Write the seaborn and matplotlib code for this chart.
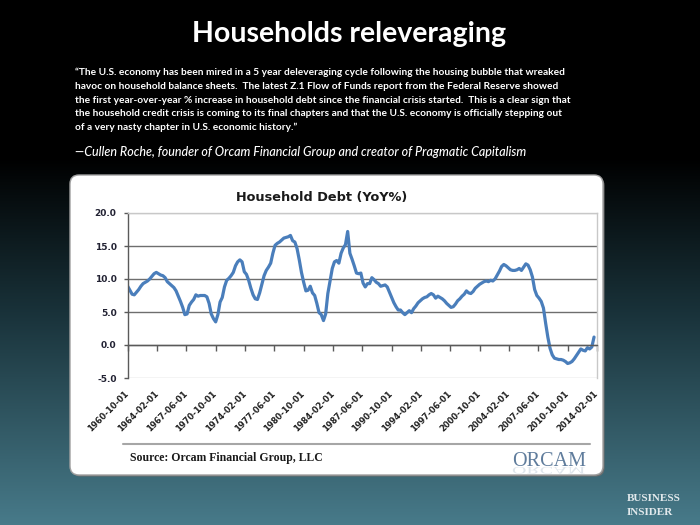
import numpy as np
import pandas as pd
import seaborn as sns
import matplotlib.pyplot as plt
import matplotlib.dates as mdates
import matplotlib.transforms as mtransforms
from matplotlib.patches import FancyBboxPatch, PathPatch
from matplotlib.textpath import TextPath
from matplotlib.font_manager import FontProperties

# Household debt, year-over-year % change, quarterly from 1960-10-01
debt_yoy = [
    8.9, 8.3, 7.7, 7.6, 8.0, 8.4, 8.9, 9.3,
    9.5, 9.7, 10.0, 10.4, 10.8, 11.0, 10.8, 10.6,
    10.5, 10.2, 9.6, 9.3, 9.0, 8.7, 8.2, 7.4,
    6.6, 5.7, 4.6, 4.7, 6.0, 6.5, 6.9, 7.6,
    7.4, 7.5, 7.5, 7.5, 7.3, 6.3, 4.7, 4.0,
    3.5, 4.6, 6.5, 7.2, 8.8, 9.8, 10.1, 10.5,
    11.0, 12.0, 12.6, 12.9, 12.6, 11.1, 10.7, 9.8,
    8.6, 7.6, 7.0, 6.9, 7.9, 9.2, 10.5, 11.3,
    11.8, 12.4, 13.9, 15.1, 15.4, 15.6, 15.9, 16.2,
    16.3, 16.4, 16.6, 15.8, 15.6, 14.6, 12.9, 11.0,
    9.5, 8.2, 8.3, 8.9, 7.9, 7.5, 6.3, 4.9,
    4.6, 3.7, 4.7, 7.8, 9.7, 11.6, 12.6, 12.8,
    12.4, 13.9, 14.7, 15.2, 17.2, 13.9, 13.0, 12.0,
    10.9, 10.8, 10.9, 9.4, 8.8, 9.3, 9.3, 10.2,
    9.9, 9.5, 9.3, 8.9, 9.0, 9.1, 8.8, 8.0,
    7.2, 6.4, 5.8, 5.3, 5.3, 4.9, 4.6, 4.9,
    5.2, 4.9, 5.5, 5.9, 6.4, 6.7, 7.0, 7.2,
    7.3, 7.6, 7.8, 7.6, 7.1, 7.4, 7.2, 7.0,
    6.7, 6.3, 6.0, 5.7, 5.8, 6.2, 6.7, 7.0,
    7.4, 7.7, 8.2, 7.9, 7.8, 8.1, 8.6, 8.9,
    9.2, 9.4, 9.6, 9.7, 9.6, 9.8, 9.7, 10.0,
    10.6, 11.2, 11.9, 12.2, 12.0, 11.7, 11.4, 11.3,
    11.3, 11.4, 11.6, 11.3, 11.8, 12.3, 12.1, 11.4,
    10.3, 8.4, 7.5, 7.1, 6.6, 5.6, 3.3, 1.2,
    -0.5, -1.5, -2.0, -2.1, -2.2, -2.2, -2.3, -2.5,
    -2.8, -2.7, -2.5, -2.1, -1.6, -1.1, -0.6, -0.8,
    -0.9, -0.4, -0.6, -0.3, 1.2,
]
first_quarter = '1960-10-01'

x_tick_labels = ['1960-10-01', '1964-02-01', '1967-06-01', '1970-10-01', '1974-02-01',
                 '1977-06-01', '1980-10-01', '1984-02-01', '1987-06-01', '1990-10-01',
                 '1994-02-01', '1997-06-01', '2000-10-01', '2004-02-01', '2007-06-01',
                 '2010-10-01', '2014-02-01']
y_ticks = [-5, 0, 5, 10, 15, 20]

page_title = 'Households releveraging'
quote_lines = [
    '\u201cThe U.S. economy has been mired in a 5 year deleveraging cycle following the housing bubble that wreaked',
    'havoc on household balance sheets.  The latest Z.1 Flow of Funds report from the Federal Reserve showed',
    'the first year-over-year % increase in household debt since the financial crisis started.  This is a clear sign that',
    'the household credit crisis is coming to its final chapters and that the U.S. economy is officially stepping out',
    'of a very nasty chapter in U.S. economic history.\u201d',
]
attribution = '\u2014Cullen Roche, founder of Orcam Financial Group and creator of Pragmatic Capitalism'
chart_title = 'Household Debt (YoY%)'
source_text = 'Source: Orcam Financial Group, LLC'

df = pd.DataFrame({
    'date': pd.date_range(first_quarter, periods=len(debt_yoy), freq='QS'),
    'yoy': debt_yoy,
})
df['x'] = mdates.date2num(df['date'])
tick_pos = mdates.date2num(pd.to_datetime(x_tick_labels))

sns.set_theme(style='white')
plt.rcParams['font.family'] = ['DejaVu Sans']

fig = plt.figure(figsize=(7, 5.25), dpi=100)

# background in pixel units (y going down)
bg = fig.add_axes([0, 0, 1, 1])
bg.set_xlim(0, 700)
bg.set_ylim(525, 0)
bg.axis('off')

rows = np.linspace(0, 1, 525)
stops = [0.0, 0.3, 0.6, 1.0]
reds = np.interp(rows, stops, [0.0, 0.0, 0.10, 0.28])
greens = np.interp(rows, stops, [0.0, 0.0, 0.20, 0.48])
blues = np.interp(rows, stops, [0.0, 0.0, 0.23, 0.54])
grad = np.stack([reds, greens, blues], axis=1)[:, None, :].repeat(2, axis=1)
bg.imshow(grad, extent=(0, 700, 525, 0), aspect='auto', zorder=0)

bg.text(349, 42, page_title, ha='center', va='baseline', color='white',
        fontsize=20.5, fontweight='bold', family='Lato')
for i, line in enumerate(quote_lines):
    bg.text(75, 75 + i * 13.8, line, ha='left', va='baseline', color='white',
            fontsize=7.3, fontweight='bold', family='Lato')
bg.text(75, 155.5, attribution, ha='left', va='baseline', color='white',
        fontsize=9.0, style='italic', fontweight='medium', family='Lato')

# white chart card
bg.add_patch(FancyBboxPatch((71.5, 176.5), 533, 300, boxstyle='round,pad=0,rounding_size=9',
                            fc='#6f6f6f', ec='none', zorder=1))
bg.add_patch(FancyBboxPatch((70, 175), 533, 300, boxstyle='round,pad=0,rounding_size=9',
                            fc='white', ec='#a0a0a0', lw=1, zorder=2))
bg.text(322, 198, chart_title, ha='center', va='center', color='#1a1a1a',
        fontsize=9.3, fontweight='bold', zorder=3)
bg.plot([123, 590], [444, 444], color='#a6a6a6', lw=1.5, zorder=3)
bg.text(130, 458, source_text, ha='left', va='center', color='#1a1a1a',
        fontsize=8.5, fontweight='bold', family='Liberation Serif', zorder=3)

# ORCAM logo with a faint reflection
bg.text(512, 466, 'ORCAM', ha='left', va='baseline', color='#5f7c9c',
        fontsize=14.5, family='Liberation Serif', zorder=3)
logo_path = TextPath((0, 0), 'ORCAM', size=20, prop=FontProperties(family='Liberation Serif'))
bg.add_patch(PathPatch(logo_path, fc='#b8c6d4', ec='none', alpha=0.45, zorder=3,
                       transform=mtransforms.Affine2D().scale(1, 0.5).translate(512, 467) + bg.transData))

bg.text(627, 501, 'BUSINESS', ha='left', va='baseline', color='#e2e9ec',
        fontsize=8, fontweight='bold', family='Liberation Serif')
bg.text(627, 515, 'INSIDER', ha='left', va='baseline', color='#e2e9ec',
        fontsize=8, fontweight='bold', family='Liberation Serif')

# the chart itself
ax = fig.add_axes([127.7 / 700, 1 - 378 / 525, (597 - 127.7) / 700, (378 - 213) / 525])
ax.set_zorder(5)
sns.lineplot(data=df, x='x', y='yoy', ax=ax, color='#4a7ebb', linewidth=2.3)
ax.set_xlim(tick_pos[0], tick_pos[-1])
ax.set_ylim(-5, 20)
ax.set_xlabel('')
ax.set_ylabel('')

ax.set_yticks(y_ticks)
ax.set_yticklabels([f'{v:.1f}' for v in y_ticks], fontsize=6.5, fontweight='bold', color='#222233')
ax.tick_params(axis='y', left=True, length=3, width=1, color='#5a5a5a', pad=5)
ax.yaxis.grid(True, color='#6e6e6e', linewidth=1)
ax.xaxis.grid(False)
for v, gl in zip(y_ticks, ax.get_ygridlines()):
    if v in (-5, 20):
        gl.set_color('#c8c8c8')

ax.spines['left'].set_color('#5a5a5a')
ax.spines['bottom'].set_position(('data', 0))
ax.spines['bottom'].set_color('#5a5a5a')
for side in ['top', 'right']:
    ax.spines[side].set_color('#c8c8c8')
for side in ax.spines:
    ax.spines[side].set_linewidth(1)

ax.set_xticks(tick_pos)
ax.tick_params(axis='x', bottom=True, direction='out', length=4, width=1,
               color='#5a5a5a', labelbottom=False)

sec = ax.secondary_xaxis(0)
sec.set_xticks(tick_pos, labels=x_tick_labels)
sec.tick_params(length=0, pad=10)
sec.spines['bottom'].set_visible(False)
plt.setp(sec.get_xticklabels(), rotation=45, ha='right', va='center', rotation_mode='anchor',
         fontsize=6, fontweight='bold', color='#222222')

fig.savefig('out.png', dpi=100)
